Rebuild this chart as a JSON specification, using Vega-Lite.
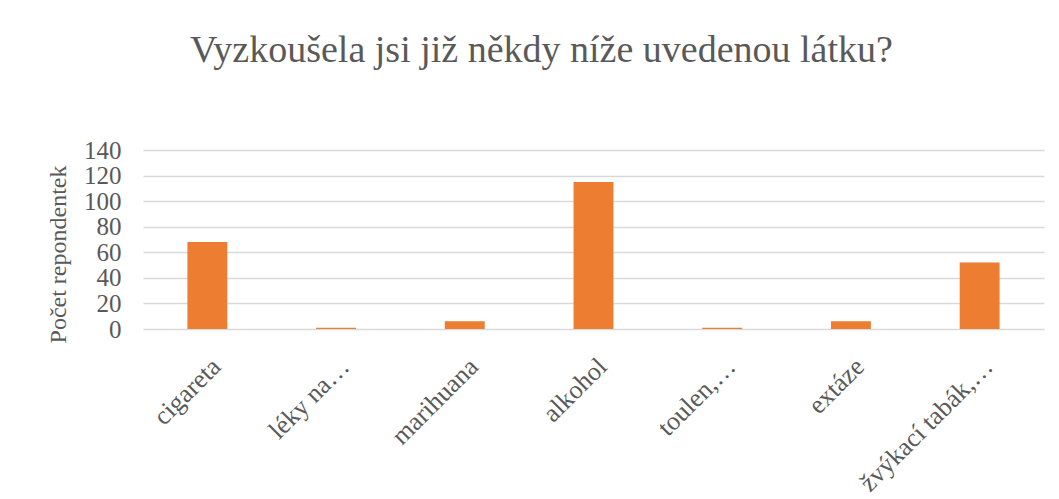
{
  "$schema": "https://vega.github.io/schema/vega-lite/v6.json",
  "autosize": "none",
  "width": 901,
  "height": 179,
  "padding": {"left": 143, "top": 150, "right": 15, "bottom": 170},
  "background": "white",
  "title": {
    "text": "Vyzkoušela jsi již někdy níže uvedenou látku?",
    "font": "Liberation Serif",
    "fontSize": 38,
    "fontWeight": "normal",
    "color": "#595959",
    "anchor": "middle",
    "frame": "group",
    "dx": -52,
    "baseline": "alphabetic",
    "offset": 38
  },
  "data": {
    "values": [
      {"latka": "cigareta", "pocet": 68},
      {"latka": "léky na…", "pocet": 1},
      {"latka": "marihuana", "pocet": 6},
      {"latka": "alkohol", "pocet": 115},
      {"latka": "toulen,…", "pocet": 1},
      {"latka": "extáze", "pocet": 6},
      {"latka": "žvýkací tabák,…", "pocet": 52}
    ]
  },
  "mark": {"type": "bar", "color": "#ED7D31"},
  "encoding": {
    "x": {
      "field": "latka",
      "type": "nominal",
      "sort": null,
      "scale": {"paddingInner": 0.69, "paddingOuter": 0.345},
      "axis": {
        "title": null,
        "labelAngle": -45,
        "labelAlign": "right",
        "labelBaseline": "top",
        "labelFont": "Liberation Serif",
        "labelFontSize": 26,
        "labelColor": "#595959",
        "labelPadding": 24,
        "labelDx": 0,
        "ticks": false,
        "domain": false,
        "labelLimit": 300
      }
    },
    "y": {
      "field": "pocet",
      "type": "quantitative",
      "scale": {"domain": [0, 140]},
      "axis": {
        "title": "Počet repondentek",
        "titleFont": "Liberation Serif",
        "titleFontSize": 24,
        "titleFontWeight": "normal",
        "titleColor": "#595959",
        "titleX": -85,
        "titleY": 104,
        "titleAngle": -90,
        "titleAlign": "center",
        "titleBaseline": "middle",
        "values": [0, 20, 40, 60, 80, 100, 120, 140],
        "labelFont": "Liberation Serif",
        "labelFontSize": 25,
        "labelColor": "#595959",
        "labelPadding": 22,
        "ticks": false,
        "domain": false,
        "gridColor": "#D9D9D9",
        "gridWidth": 1.5
      }
    }
  },
  "config": {"view": {"stroke": null}}
}
